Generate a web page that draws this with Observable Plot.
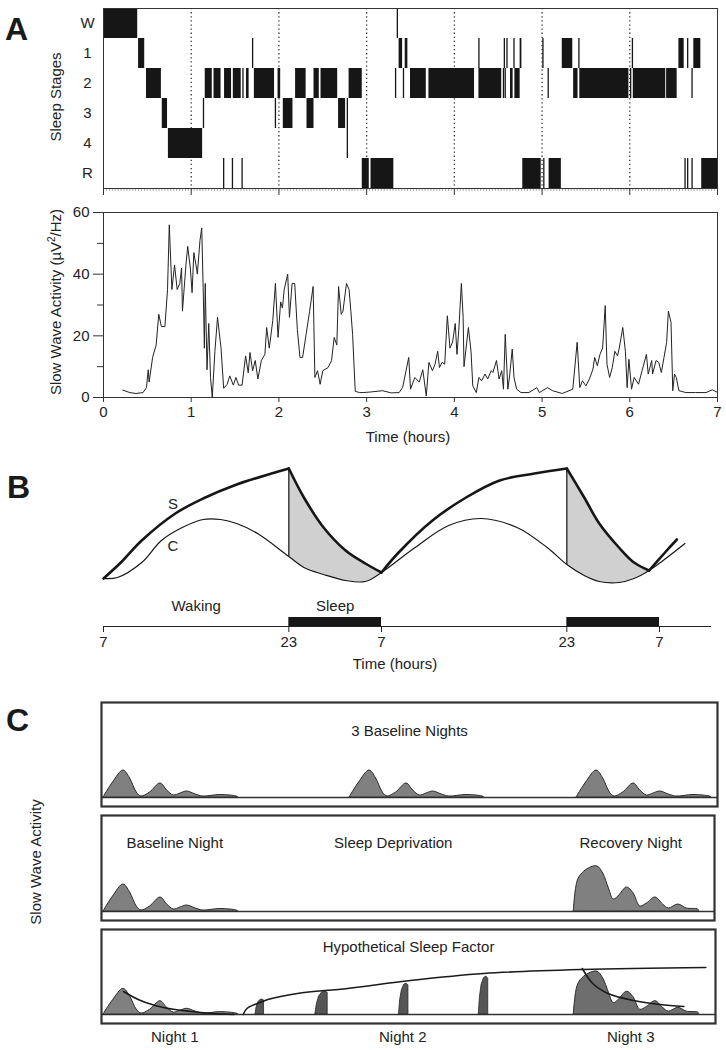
<!DOCTYPE html>
<html><head><meta charset="utf-8">
<script src="https://cdn.jsdelivr.net/npm/d3@7"></script>
<script src="https://cdn.jsdelivr.net/npm/@observablehq/plot@0.6"></script>
<style>
body{margin:0;background:#fff;}
#fig{position:relative;width:726px;height:1050px;font-family:"Liberation Sans",Arial,Helvetica,sans-serif;color:#222;overflow:hidden;background:#fff}
.lbl{position:absolute;font-size:15px;line-height:1;white-space:nowrap}
.letter{position:absolute;font-size:32px;font-weight:bold;line-height:1;color:#1a1a1a}
sup{font-size:10px;line-height:0}
</style></head><body><div id="fig"></div>
<script>
// ---------------- Panel A: hypnogram ----------------
const stageOrder = ["W","1","2","3","4","R"];
const hourMarks = [1,2,3,4,5,6];
const hourTicks = [0,1,2,3,4,5,6,7];
// [start h, end h, stage]
const stageBlocks = [
 [0,0.39,"W"],[0.40,0.47,"1"],[0.49,0.66,"2"],[0.67,0.73,"3"],[0.74,1.13,"4"],
 [1.16,1.24,"2"],[1.26,1.34,"2"],[1.38,1.46,"2"],[1.48,1.57,"2"],[1.63,1.66,"2"],[1.72,1.95,"2"],[1.99,2.02,"2"],
 [2.05,2.16,"3"],[2.32,2.40,"3"],[2.68,2.76,"3"],
 [2.19,2.31,"2"],[2.40,2.46,"2"],[2.48,2.67,"2"],[2.80,2.95,"2"],
 [2.95,3.03,"R"],[3.05,3.31,"R"],
 [3.37,3.41,"1"],[3.44,3.47,"1"],
 [3.50,3.68,"2"],[3.71,4.23,"2"],[4.28,4.54,"2"],[4.64,4.67,"2"],[4.69,4.75,"2"],
 [4.75,4.77,"1"],
 [4.78,4.99,"R"],[5.08,5.22,"R"],
 [5.23,5.35,"1"],[5.36,5.41,"2"],[5.43,5.99,"2"],[6.04,6.41,"2"],[6.42,6.54,"2"],
 [6.56,6.62,"1"],[6.73,6.81,"1"],[6.82,7.0,"R"]
];
// brief (single-epoch) stage changes: [time h, stage]
const stageBriefs = [
 [1.14,"3"],[1.59,"2"],[1.70,"1"],[1.37,"R"],[1.47,"R"],[1.58,"R"],[1.96,"3"],[2.78,"3"],[2.78,"4"],
 [3.35,"W"],[3.33,"2"],[3.42,"2"],[4.28,"1"],[4.56,"2"],[4.58,"2"],[4.57,"1"],[4.60,"1"],[4.68,"1"],
 [5.02,"R"],[5.01,"1"],[5.07,"2"],[5.42,"1"],[6.03,"1"],[6.01,"2"],[6.66,"1"],[6.71,"2"],
 [6.63,"R"],[6.66,"R"],[6.71,"R"]
];
const epochTicks = d3.range(0, 7.0001, 1/30);

// ---------------- Panel A: slow wave activity ----------------
const swaHour = [0.22,0.30,0.37,0.45,0.49,0.51,0.52,0.56,0.60,0.63,0.66,0.70,0.73,0.75,0.78,0.81,0.84,0.87,0.89,0.90,0.94,0.96,0.99,1.01,1.03,1.06,1.07,1.10,1.12,1.14,1.15,1.16,1.18,1.20,1.22,1.24,1.27,1.30,1.34,1.37,1.41,1.44,1.48,1.51,1.54,1.58,1.62,1.65,1.67,1.70,1.73,1.76,1.80,1.84,1.86,1.89,1.93,1.96,1.99,2.02,2.04,2.06,2.10,2.12,2.15,2.18,2.21,2.24,2.27,2.31,2.35,2.39,2.41,2.44,2.47,2.50,2.56,2.60,2.63,2.66,2.68,2.71,2.73,2.77,2.80,2.82,2.84,2.87,2.92,2.96,3.05,3.18,3.28,3.37,3.41,3.48,3.50,3.55,3.60,3.64,3.68,3.71,3.75,3.78,3.81,3.83,3.86,3.89,3.92,3.95,3.98,4.01,4.03,4.05,4.08,4.10,4.11,4.16,4.19,4.21,4.25,4.28,4.31,4.35,4.38,4.42,4.44,4.48,4.51,4.54,4.56,4.58,4.61,4.63,4.66,4.68,4.71,4.76,4.85,4.94,4.97,5.06,5.12,5.23,5.35,5.40,5.43,5.46,5.50,5.54,5.58,5.60,5.63,5.66,5.69,5.72,5.74,5.77,5.80,5.83,5.86,5.88,5.92,5.95,5.97,5.99,6.02,6.05,6.10,6.14,6.19,6.21,6.25,6.26,6.30,6.33,6.36,6.39,6.42,6.44,6.47,6.49,6.51,6.53,6.56,6.64,6.75,6.87,6.94,6.99];
const swaValue = [2.4,1.6,1.3,1.6,3.2,9,5,13,17,27,23,23,35,56,35,43,35,37,42,28,43,49,42,34,47,42,40,51,55,31,16,37,9,24,6.5,0,15,26,16,3,4.3,7,4,6.5,4,4,13.5,8,14.6,8.7,12,6,12,14,22.7,16,25,37,19.5,31,29,35,40,26,37,37,22,13,13,20.5,28,36,6.5,8.7,4.3,8.7,9.7,12,19.5,17,36,27,28,37,35,28,20.5,2,1.6,1.6,1.8,2.2,1.5,1.6,3.2,13,2.7,6.5,5,9,0.5,11.4,8.7,10.8,15,9.7,11.4,10.8,26.5,16,18,24,14,21.6,37,26,10,22.7,15,3.8,1.6,6.5,5.4,7.6,6,8.7,8.1,12,6,8.7,2.7,20.5,2.7,7,15.7,6.5,2.7,1.6,1.6,3.2,1.6,3.2,2.2,1.3,2.7,17.9,3.2,5.4,3.8,6,9.2,13,10.3,14,16,29.8,10.8,6.5,9.7,15,13.5,16,22.7,15,3.2,12.4,2.7,6.5,4.3,8.7,14,7.6,12,7.6,12,11.4,8.1,13,17.9,28,24.4,2.2,7.6,6.5,2.2,1.6,1.6,1.6,2.5,1.8];
const swaMajorTicks = [0,20,40,60];
const swaMinorTicks = [10,30,50];

// ---------------- Panel B: two-process model ----------------
// time in hours since 07:00 of day 1
const clockTicks = [0,16,24,40,48];
const sleepPeriods = [[16,24],[40,48]];
const dayPhases = [{name:"Waking", from:0, to:16},{name:"Sleep", from:16, to:24}];
const sT = [0,1.5,3.3,6.2,8.6,11.5,14.5,16,17.3,19,20.9,22.6,24,25.4,28.4,31.3,34.2,37.2,40,41.5,42.8,44.5,45.8,47.1,48.4,49.5];
const sL = [12,28,50,77,92,106,117,122,93,63,40,27,18,37,70,93,110,117,122,93,67,43,28,20,37,51];
const sBreaks = [16,24,40,47.1];
const cT = [0,1.2,3.3,5.0,6.8,8.6,10.1,11.5,13.3,16,17.3,19,20.9,22.6,24,26.9,29.8,32.6,35.7,38.3,40,41.5,42.8,44.5,45.8,47.1,50.2];
const cL = [12,13,28,50,63,71,71,67,57,34,23,16,10,9,18,43,65,72,63,43,26,15,9,8,12,20,47];
const curveLabels = [{name:"S", t:6.0, L:86},{name:"C", t:6.0, L:44}];

// ---------------- Panel C: schematic SWA ----------------
const nightStarts = [0,25.9,49.8];
const baseT = [0,1.0,2.1,2.8,3.5,4.0,4.9,6.0,6.7,7.4,8.1,8.8,9.7,10.5,12.3,14.0,14.2];
const baseV = [0,15,27,19,5,1,5,14,7,2,4,6,3,1,2.5,1,0];
const recoveryStart = 49.5;
const recT = [0,0.4,0.9,1.8,2.5,3.1,3.7,4.2,4.7,5.6,6.3,7.0,7.7,8.6,9.4,10.0,11.0,11.9,13.1,13.2];
const recV = [0,30,38,44,45,38,23,12,15,24,18,5,8,14,7,3,7,3,2,0];
const spikeStart = [16.0,22.3,31.1,39.5];
const spikeEnd = [16.9,23.6,32.1,40.5];
const spikeTop = [15.8,24.2,32.6,40];
const riseT = [14.7,15.1,16.2,17.3,20.4,25.7,32.3,40,50.4,63.4];
const riseV = [0,6.3,11.6,15.8,22.1,27.4,35.8,43.2,47.4,49.5];
const decay1T = [2.1,3.9,6.3,9.2,11.6,13.7];
const decay1V = [24.2,14.7,7.4,3.2,1.1,0];
const decay3T = [50.4,51.5,53.1,55.8,58.6,61.1];
const decay3V = [48.4,32.6,22.1,14.7,10.5,8.4];
const conditionLabels = [{name:"Baseline Night", t:7.5},{name:"Sleep Deprivation", t:30.5},{name:"Recovery Night", t:55.5}];
const nightLabels = [{name:"Night 1", t:7.5},{name:"Night 2", t:31.5},{name:"Night 3", t:55.5}];

// ---------------- rendering ----------------
const style = {fontFamily:"'Liberation Sans', Arial, Helvetica, sans-serif", fontSize:"15px", background:"transparent", color:"#222", overflow:"visible"};
const ink = "#161616";
const txt = {fontSize:15, fill:"#222", lineAnchor:"middle"};
const fig = document.getElementById("fig");
function put(node, top){ node.style.position="absolute"; node.style.left="0px"; node.style.top=top+"px"; fig.appendChild(node); }
function label(text, x, y, rotate){
  const d=document.createElement("div"); d.className="lbl"; d.innerHTML=text;
  d.style.left=x+"px"; d.style.top=y+"px";
  d.style.transform="translate(-50%,-50%)"+(rotate?" rotate(-90deg)":"");
  fig.appendChild(d);
}
function letter(t, x, y){ const d=document.createElement("div"); d.className="letter"; d.textContent=t; d.style.left=x+"px"; d.style.top=y+"px"; fig.appendChild(d); }

// A1 hypnogram
put(Plot.plot({
  width:726, height:200, marginLeft:103, marginRight:9, marginTop:8, marginBottom:12, style,
  x:{domain:[0,7]}, y:{domain:stageOrder, padding:0},
  marks:[
    Plot.ruleX(hourMarks, {stroke:"#333", strokeDasharray:"1.3,2.8", strokeWidth:1.3}),
    Plot.barX(stageBlocks, {x1:d=>d[0], x2:d=>d[1], y:d=>d[2], fill:ink}),
    Plot.tickX(stageBriefs, {x:d=>d[0], y:d=>d[1], stroke:ink, strokeWidth:1.3}),
    Plot.axisY({tickSize:0, tickPadding:16, textAnchor:"middle", label:null}),
    Plot.axisX({ticks:epochTicks, tickSize:3, tickFormat:()=>"", stroke:"#777", strokeWidth:0.6, label:null}),
    Plot.axisX({ticks:hourTicks, tickSize:7, tickFormat:()=>"", stroke:"#333", label:null}),
    Plot.frame({stroke:"#333"})
  ]
}), 0);

// A2 slow wave activity
put(Plot.plot({
  width:726, height:245, marginLeft:103, marginRight:9, marginTop:12, marginBottom:48, style,
  x:{domain:[0,7]}, y:{domain:[0,60]},
  marks:[
    Plot.frame({stroke:"#333"}),
    Plot.axisY({ticks:swaMajorTicks, tickSize:10, tickPadding:4, tickFormat:d=>String(d), label:null, stroke:"#333"}),
    Plot.axisY({ticks:swaMinorTicks, tickSize:6, tickFormat:()=>"", label:null, stroke:"#333"}),
    Plot.axisX({ticks:hourTicks, tickSize:5, tickPadding:4, tickFormat:d=>String(d), label:null, stroke:"#333"}),
    Plot.line(swaHour.map((h,i)=>({h, v:swaValue[i]})), {x:"h", y:"v", stroke:"#222", strokeWidth:1})
  ]
}), 200);

// B curves
const sRows = [];
sT.forEach((t,i)=>{ const seg = sBreaks.filter(b=>t>b).length; sRows.push({t, L:sL[i], seg}); if (sBreaks.includes(t)) sRows.push({t, L:sL[i], seg:seg+1}); });
const cRows = cT.map((t,i)=>({t, L:cL[i]}));
const cAt = t => cL[cT.indexOf(t)];
const sAt = t => sL[sT.indexOf(t)];
const shadeIntervals = [[sBreaks[0], sBreaks[1]], [sBreaks[2], sBreaks[3]]];
const shadeRows = shadeIntervals.flatMap(([a,b],k)=> sT.filter(t=>t>=a && t<=b).map(t=>({t, s:sAt(t), c:cAt(t), k})));
const onsetRows = shadeIntervals.map(([a])=>({t:a, s:sAt(a), c:cAt(a)}));
const xClock = {type:"linear", domain:[0,48], range:[103,659]};
put(Plot.plot({
  width:726, height:150, marginLeft:0, marginRight:0, marginTop:0, marginBottom:0, style,
  x:{...xClock, axis:null}, y:{domain:[0,150], range:[150,0], axis:null},
  marks:[
    Plot.areaY(shadeRows, {x:"t", y1:"c", y2:"s", z:"k", fill:"#d0d0d0", curve:"catmull-rom"}),
    Plot.ruleX(onsetRows, {x:"t", y1:"c", y2:"s", stroke:ink, strokeWidth:1.2}),
    Plot.line(cRows, {x:"t", y:"L", stroke:ink, strokeWidth:1.2, curve:"catmull-rom"}),
    Plot.line(sRows, {x:"t", y:"L", z:"seg", stroke:ink, strokeWidth:2.6, curve:"catmull-rom"}),
    Plot.text(curveLabels, {x:"t", y:"L", text:"name", ...txt})
  ]
}), 440);

// B timeline
put(Plot.plot({
  width:726, height:60, marginLeft:103, marginRight:16, marginTop:27, marginBottom:24, style,
  x:{...xClock, ticks:clockTicks, tickFormat:t=>String((7+t)%24), tickSize:6, tickPadding:4, line:true, label:null},
  marks:[
    Plot.barX(sleepPeriods, {x1:d=>d[0], x2:d=>d[1], fill:ink}),
    Plot.text(dayPhases, {x:d=>(d.from+d.to)/2, text:"name", frameAnchor:"top", dy:-11, ...txt})
  ]
}), 590);

// C boxes
const profileRows = (starts, T, V, tag) => starts.flatMap((s,k)=>T.map((t,i)=>({t:s+t, v:V[i], z:tag+k})));
const areaOpts = {x:"t", y:"v", z:"z", fill:"#808080", stroke:"#2a2a2a", strokeWidth:1, curve:"catmull-rom"};
const xBox = {domain:[0,64], range:[103,711], axis:null};

put(Plot.plot({
  width:726, height:120, marginLeft:101, marginRight:9, marginTop:7, marginBottom:9, style,
  x:xBox, y:{domain:[0,100], range:[102,2], axis:null},
  marks:[
    Plot.frame({stroke:"#333", strokeWidth:2.2}),
    Plot.ruleY([0], {stroke:"#333", strokeWidth:1.6}),
    Plot.areaY(profileRows(nightStarts, baseT, baseV, "b"), areaOpts),
    Plot.text(["3 Baseline Nights"], {text:d=>d, frameAnchor:"top", dy:29, ...txt})
  ]
}), 695);

put(Plot.plot({
  width:726, height:121, marginLeft:101, marginRight:12, marginTop:7, marginBottom:9, style,
  x:xBox, y:{domain:[0,100], range:[103,3], axis:null},
  marks:[
    Plot.frame({stroke:"#333", strokeWidth:2.2}),
    Plot.ruleY([0], {stroke:"#333", strokeWidth:1.6}),
    Plot.areaY(profileRows([nightStarts[0]], baseT, baseV, "b"), areaOpts),
    Plot.areaY(profileRows([recoveryStart], recT, recV, "r"), areaOpts),
    Plot.text(conditionLabels, {x:"t", text:"name", frameAnchor:"top", dy:28, ...txt})
  ]
}), 808);

const spikeShape = [[0,0],[0.12,0.45],[0.3,0.78],[0.55,0.96],[0.8,1],[1,0.94],[1,0]];
const spikeRows = spikeStart.flatMap((s,k)=>spikeShape.map(([u,w])=>({t:s+u*(spikeEnd[k]-s), v:w*spikeTop[k], z:"s"+k})));
put(Plot.plot({
  width:726, height:125, marginLeft:101, marginRight:11, marginTop:7, marginBottom:24, style,
  x:xBox, y:{domain:[0,100], range:[92,-3], axis:null},
  marks:[
    Plot.frame({stroke:"#333", strokeWidth:2.2}),
    Plot.ruleY([0], {stroke:"#333", strokeWidth:1.6}),
    Plot.areaY(profileRows([nightStarts[0]], baseT, baseV, "b"), areaOpts),
    Plot.areaY(profileRows([recoveryStart], recT, recV, "r"), {...areaOpts, fill:"#6e6e6e"}),
    Plot.areaY(spikeRows, {x:"t", y:"v", z:"z", fill:"#555", stroke:"#2a2a2a", strokeWidth:0.8}),
    Plot.line(riseT.map((t,i)=>({t, v:riseV[i]})), {x:"t", y:"v", stroke:"#1a1a1a", strokeWidth:1.6, curve:"catmull-rom"}),
    Plot.line(decay1T.map((t,i)=>({t, v:decay1V[i]})), {x:"t", y:"v", stroke:"#1a1a1a", strokeWidth:1.6, curve:"catmull-rom"}),
    Plot.line(decay3T.map((t,i)=>({t, v:decay3V[i]})), {x:"t", y:"v", stroke:"#1a1a1a", strokeWidth:1.6, curve:"catmull-rom"}),
    Plot.text(["Hypothetical Sleep Factor"], {text:d=>d, frameAnchor:"top", dy:18, ...txt}),
    Plot.text(nightLabels, {x:"t", text:"name", frameAnchor:"bottom", dy:14, ...txt})
  ]
}), 922);

// texts
letter("A", 5, 13);
letter("B", 7, 471);
letter("C", 6, 704);
label("Sleep Stages", 55, 97, true);
label("Slow Wave Activity (µV<sup>2</sup>/Hz)", 55, 302, true);
label("Time (hours)", 408, 436);
label("Time (hours)", 395, 663);
label("Slow Wave Activity", 35, 862, true);
</script></body></html>
